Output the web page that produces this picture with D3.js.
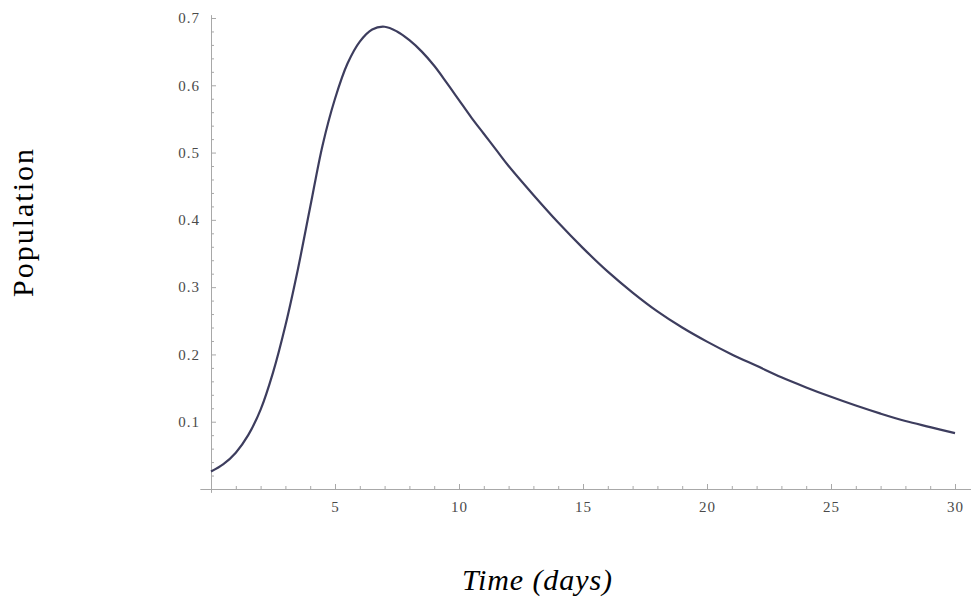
<!DOCTYPE html>
<html>
<head>
<meta charset="utf-8">
<script src="https://cdn.jsdelivr.net/npm/d3@7"></script>
<style>
  body { margin: 0; background: #fff; }
  #chart svg { display: block; }
  .axis path, .axis line { stroke: #a8a8a8; }
  .axis text { fill: #4a4a4a; font-family: "Liberation Serif", serif; font-size: 15px; letter-spacing: 1px; }
  .titulo { font-family: "Liberation Serif", serif; fill: #000; }
</style>
</head>
<body>
<div id="chart"></div>
<script>
// Datos
const dias = [0, 0.5, 1, 1.5, 2, 2.5, 3, 3.5, 4, 4.5, 5, 5.5, 6, 6.5, 7, 7.5, 8, 8.5, 9, 9.5, 10, 10.5, 11, 11.5, 12, 13, 14, 15, 16, 17, 18, 19, 20, 21, 22, 23, 24, 25, 26, 27, 28, 29, 30];
const poblacion = [0.026, 0.037, 0.054, 0.080, 0.118, 0.173, 0.243, 0.326, 0.419, 0.511, 0.580, 0.632, 0.665, 0.683, 0.687, 0.680, 0.667, 0.650, 0.629, 0.604, 0.578, 0.552, 0.528, 0.504, 0.480, 0.437, 0.396, 0.358, 0.323, 0.292, 0.264, 0.240, 0.219, 0.200, 0.183, 0.166, 0.151, 0.137, 0.124, 0.112, 0.101, 0.092, 0.083];
const ticksX = [5, 10, 15, 20, 25, 30];
const ticksY = [0.1, 0.2, 0.3, 0.4, 0.5, 0.6, 0.7];

const width = 971, height = 600;

let svg = d3.select("#chart")
    .append("svg")
        .attr("width", width)
        .attr("height", height);

let x = d3.scaleLinear()
    .domain([0, 30])
    .range([211, 955]);

let y = d3.scaleLinear()
    .domain([0, 0.7])
    .range([489, 18]);

//Escalas de los ejes (algo más largas que la curva, como en Mathematica)
let xEje = x.copy().domain([-0.45, 30.65]).range([x(-0.45), x(30.65)]);
let yEje = y.copy().domain([-0.005, 0.705]).range([y(-0.005), y(0.705)]);

//Eje X
svg.append("g")
    .attr("class", "axis")
    .attr("transform", "translate(0," + y(0) + ")")
    .call(d3.axisBottom(xEje).tickValues(d3.range(1, 31).filter(function(d) { return d % 5 != 0; })).tickSizeInner(-3).tickSizeOuter(0).tickFormat(""));

svg.append("g")
    .attr("class", "axis")
    .attr("transform", "translate(0," + y(0) + ")")
    .call(d3.axisBottom(xEje).tickValues(ticksX).tickSizeInner(-5).tickSizeOuter(0).tickPadding(12).tickFormat(d3.format("d")))
    .call(function(g) { g.select(".domain").remove(); });

//Eje Y
svg.append("g")
    .attr("class", "axis")
    .attr("transform", "translate(" + x(0) + ",0)")
    .call(d3.axisLeft(yEje).tickValues(d3.range(1, 35).map(function(i) { return i * 0.02; }).filter(function(d) { return Math.round(d * 100) % 10 != 0; })).tickSizeInner(-3).tickSizeOuter(0).tickFormat(""));

svg.append("g")
    .attr("class", "axis")
    .attr("transform", "translate(" + x(0) + ",0)")
    .call(d3.axisLeft(yEje).tickValues(ticksY).tickSizeInner(-5).tickSizeOuter(0).tickPadding(11).tickFormat(d3.format(".1f")))
    .call(function(g) { g.select(".domain").remove(); });

//Curva
let linea = d3.line()
    .x(function(d, i) { return x(dias[i]); })
    .y(function(d) { return y(d); })
    .curve(d3.curveCatmullRom.alpha(0.5));

svg.append("path")
    .datum(poblacion)
    .attr("fill", "none")
    .attr("stroke", "#3d3d5e")
    .attr("stroke-width", 2.2)
    .attr("d", linea);

//Títulos
svg.append("text")
    .attr("class", "titulo")
    .attr("x", 537)
    .attr("y", 590)
    .attr("text-anchor", "middle")
    .style("font-size", "30px")
    .style("font-style", "italic")
    .attr("textLength", 150)
    .text("Time (days)");

svg.append("text")
    .attr("class", "titulo")
    .attr("transform", "translate(33,223) rotate(-90)")
    .attr("text-anchor", "middle")
    .style("font-size", "30px")
    .attr("textLength", 148)
    .text("Population");
</script>
</body>
</html>
